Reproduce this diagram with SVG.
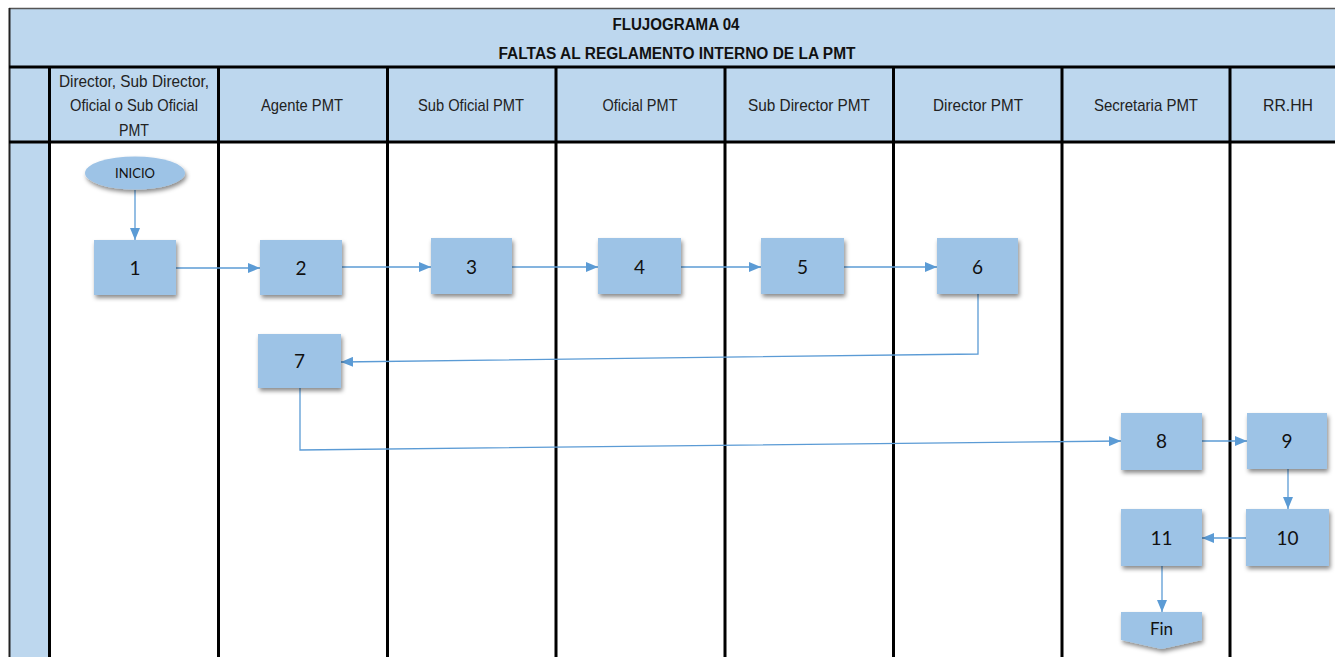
<svg xmlns="http://www.w3.org/2000/svg" width="1335" height="657" viewBox="0 0 1335 657">
<defs>
<style>
.hdr{font-family:"Liberation Sans",Arial,sans-serif;font-size:17px;fill:#222;text-anchor:middle}
.ttl{font-family:"Liberation Sans",Arial,sans-serif;font-size:16px;font-weight:bold;fill:#111;text-anchor:middle}
.box{fill:#9DC3E6;filter:url(#sh)}
.num{font-family:Lato,"Open Sans",sans-serif;font-size:19px;fill:#111;text-anchor:middle}
.lane{stroke:#000;stroke-width:3}
.con{fill:none;stroke:#5B9BD5;stroke-width:1.3}
</style>
<filter id="sh" x="-20%" y="-20%" width="150%" height="160%">
<feDropShadow dx="1.5" dy="3" stdDeviation="2" flood-color="#000" flood-opacity="0.45"/>
</filter>
<marker id="ar" markerWidth="12" markerHeight="10" refX="12" refY="5" orient="auto" markerUnits="userSpaceOnUse">
<path d="M0,0 L12,5 L0,10 Z" fill="#5B9BD5"/>
</marker>
</defs>
<rect x="0" y="0" width="1335" height="657" fill="#fff"/>
<g id="frame">
<rect x="9" y="8" width="1326" height="134" fill="#BDD7EE"/>
<rect x="9" y="142" width="40" height="515" fill="#BDD7EE"/>
<line x1="9" y1="8.5" x2="1335" y2="8.5" stroke="#555" stroke-width="1.5"/>
<line x1="9.5" y1="8" x2="9.5" y2="657" stroke="#222" stroke-width="2"/>
<line class="lane" x1="9" y1="67" x2="1335" y2="67"/>
<line class="lane" x1="9" y1="142" x2="1335" y2="142"/>
<line class="lane" x1="49.5" y1="67" x2="49.5" y2="657"/>
<line class="lane" x1="218.5" y1="67" x2="218.5" y2="657"/>
<line class="lane" x1="387.5" y1="67" x2="387.5" y2="657"/>
<line class="lane" x1="556" y1="67" x2="556" y2="657"/>
<line class="lane" x1="725" y1="67" x2="725" y2="657"/>
<line class="lane" x1="893.5" y1="67" x2="893.5" y2="657"/>
<line class="lane" x1="1062" y1="67" x2="1062" y2="657"/>
<line class="lane" x1="1230" y1="67" x2="1230" y2="657"/>
<text class="ttl" x="676" y="30" textLength="127" lengthAdjust="spacingAndGlyphs">FLUJOGRAMA 04</text>
<text class="ttl" x="677" y="59" textLength="357" lengthAdjust="spacingAndGlyphs">FALTAS AL REGLAMENTO INTERNO DE LA PMT</text>
<text class="hdr" x="134" y="87" textLength="150" lengthAdjust="spacingAndGlyphs">Director, Sub Director,</text>
<text class="hdr" x="134" y="111" textLength="128" lengthAdjust="spacingAndGlyphs">Oficial o Sub Oficial</text>
<text class="hdr" x="134" y="136" textLength="30" lengthAdjust="spacingAndGlyphs">PMT</text>
<text class="hdr" x="302" y="111" textLength="82" lengthAdjust="spacingAndGlyphs">Agente PMT</text>
<text class="hdr" x="471" y="111" textLength="106" lengthAdjust="spacingAndGlyphs">Sub Oficial PMT</text>
<text class="hdr" x="640" y="111" textLength="75" lengthAdjust="spacingAndGlyphs">Oficial PMT</text>
<text class="hdr" x="809" y="111" textLength="122" lengthAdjust="spacingAndGlyphs">Sub Director PMT</text>
<text class="hdr" x="978" y="111" textLength="90" lengthAdjust="spacingAndGlyphs">Director PMT</text>
<text class="hdr" x="1146" y="111" textLength="104" lengthAdjust="spacingAndGlyphs">Secretaria PMT</text>
<text class="hdr" x="1288" y="111" textLength="50" lengthAdjust="spacingAndGlyphs">RR.HH</text>
</g>
<g id="connectors">
<line class="con" x1="135" y1="190" x2="135" y2="240" marker-end="url(#ar)"/>
<line class="con" x1="176" y1="268" x2="260" y2="268" marker-end="url(#ar)"/>
<line class="con" x1="342" y1="267" x2="431" y2="267" marker-end="url(#ar)"/>
<line class="con" x1="512" y1="267" x2="598" y2="267" marker-end="url(#ar)"/>
<line class="con" x1="681" y1="267" x2="761" y2="267" marker-end="url(#ar)"/>
<line class="con" x1="844" y1="267" x2="937" y2="267" marker-end="url(#ar)"/>
<polyline class="con" points="978,294 978,354 341,362" marker-end="url(#ar)"/>
<polyline class="con" points="300,388 300,450 1121,441" marker-end="url(#ar)"/>
<line class="con" x1="1202" y1="441" x2="1247" y2="441" marker-end="url(#ar)"/>
<line class="con" x1="1288" y1="469" x2="1288" y2="509" marker-end="url(#ar)"/>
<line class="con" x1="1246" y1="538" x2="1202" y2="538" marker-end="url(#ar)"/>
<line class="con" x1="1162" y1="566" x2="1162" y2="612" marker-end="url(#ar)"/>
</g>
<g id="inicio">
<ellipse cx="135" cy="173" rx="50" ry="16.5" fill="#9DC3E6" filter="url(#sh)"/>
<text x="135" y="178" font-family="Lato,'Open Sans',sans-serif" font-size="13" fill="#111" text-anchor="middle">INICIO</text>
</g>
<g id="n1"><rect class="box" x="94" y="240" width="82" height="55"/><text class="num" x="135" y="275">1</text></g>
<g id="n2"><rect class="box" x="260" y="240" width="82" height="55"/><text class="num" x="301" y="275">2</text></g>
<g id="n3"><rect class="box" x="431" y="238" width="81" height="56"/><text class="num" x="471.5" y="274">3</text></g>
<g id="n4"><rect class="box" x="598" y="238" width="83" height="56"/><text class="num" x="639.5" y="274">4</text></g>
<g id="n5"><rect class="box" x="761" y="238" width="83" height="56"/><text class="num" x="802.5" y="274">5</text></g>
<g id="n6"><rect class="box" x="937" y="238" width="81" height="56"/><text class="num" x="977.5" y="274">6</text></g>
<g id="n7"><rect class="box" x="258" y="334" width="83" height="54"/><text class="num" x="299.5" y="368">7</text></g>
<g id="n8"><rect class="box" x="1121" y="413" width="81" height="57"/><text class="num" x="1161.5" y="448">8</text></g>
<g id="n9"><rect class="box" x="1247" y="413" width="80" height="56"/><text class="num" x="1287" y="448">9</text></g>
<g id="n10"><rect class="box" x="1246" y="509" width="83" height="57"/><text class="num" x="1287.5" y="545">10</text></g>
<g id="n11"><rect class="box" x="1121" y="509" width="81" height="57"/><text class="num" x="1161.5" y="545">11</text></g>
<g id="fin"><path d="M1121,612 H1202 V640 L1161.5,649 L1121,640 Z" fill="#9DC3E6" filter="url(#sh)"/><text x="1161.5" y="635" font-family="Lato,'Open Sans',sans-serif" font-size="17" fill="#111" text-anchor="middle">Fin</text></g>
</svg>
